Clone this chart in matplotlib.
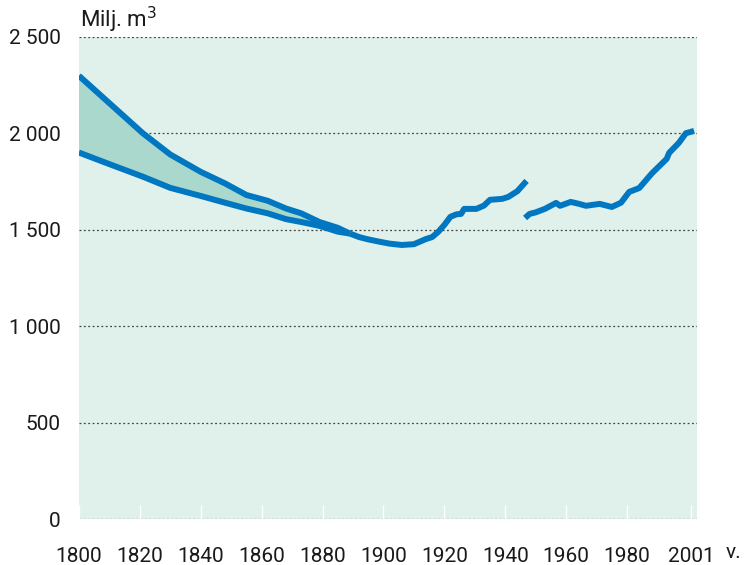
import matplotlib.pyplot as plt
import numpy as np

plt.rcParams['font.family'] = ['Roboto', 'DejaVu Sans']

# Upper and lower estimates 1800-1890
range_years = [1800, 1810, 1821, 1830, 1840, 1848, 1855, 1862, 1868, 1873, 1879, 1885, 1889]
upper = [2298, 2156, 2000, 1890, 1800, 1740, 1680, 1650, 1610, 1585, 1540, 1510, 1480]
lower = [1900, 1840, 1775, 1717, 1675, 1640, 1610, 1585, 1555, 1540, 1520, 1490, 1480]

# Single series 1889-1947
years_a = [1889, 1892, 1895, 1899, 1902, 1906, 1910, 1914, 1916, 1918, 1920, 1922,
           1924, 1925.5, 1926.5, 1930.5, 1933, 1935, 1939, 1941, 1944, 1947]
vol_a = [1480, 1462, 1450, 1437, 1428, 1421, 1425, 1452, 1462, 1489, 1525, 1567,
         1580, 1582, 1608, 1608, 1625, 1655, 1660, 1670, 1700, 1753]

# Single series 1947-2001
years_b = [1946.5, 1948, 1950, 1953, 1956.7, 1958, 1961.5, 1964, 1966.5, 1971, 1975,
           1978, 1980.7, 1984, 1988.2, 1993, 1993.8, 1997, 1999.3, 2002]
vol_b = [1561, 1582, 1590, 1608, 1639, 1624, 1644, 1635, 1624, 1634, 1618,
         1640, 1696, 1716, 1793, 1867, 1898, 1950, 2000, 2012]

x_ticks = [1800, 1820, 1840, 1860, 1880, 1900, 1920, 1940, 1960, 1980, 2001]
y_ticks = [0, 500, 1000, 1500, 2000, 2500]
y_labels = ['0', '500', '1 000', '1 500', '2 000', '2 500']

line_col = '#0077c0'
bg_col = '#e0f0eb'
fill_col = '#aad8cc'
txt_col = '#1a1a1a'

fig = plt.figure(figsize=(7.44, 5.65), dpi=100)
ax = fig.add_axes([0.106, 0.081, 0.831, 0.854])
ax.set_facecolor(bg_col)

ax.fill_between(range_years, lower, upper, color=fill_col, zorder=2)
lw = 4.3
ax.plot(range_years, upper, color=line_col, lw=lw, zorder=3, solid_capstyle='butt')
ax.plot(range_years, lower, color=line_col, lw=lw, zorder=3, solid_capstyle='butt')
ax.plot(years_a, vol_a, color=line_col, lw=lw, zorder=3, solid_capstyle='butt')
ax.plot(years_b, vol_b, color=line_col, lw=lw, zorder=3, solid_capstyle='butt')

ax.set_xlim(1800, 2003)
ax.set_ylim(0, 2500)

for y in y_ticks:
    ax.axhline(y, color='#444444', lw=0.9, ls=(0, (1.5, 2)), zorder=1)

for s in ax.spines.values():
    s.set_visible(False)

ax.set_yticks(y_ticks)
ax.set_yticklabels(y_labels, fontsize=15, color=txt_col)
ax.tick_params(axis='y', length=0, pad=13)
ax.set_xticks(x_ticks)
ax.set_xticklabels([str(x) for x in x_ticks], fontsize=15, color=txt_col)
ax.tick_params(axis='x', direction='in', length=10, width=1, color='white', pad=20)

fig.text(0.107, 0.965, 'Milj. m$^3$', fontsize=16, color=txt_col, va='center', ha='left')
fig.text(0.976, 0.022, 'v.', fontsize=15, color=txt_col, va='center', ha='left')

fig.savefig('out.png', dpi=100)
